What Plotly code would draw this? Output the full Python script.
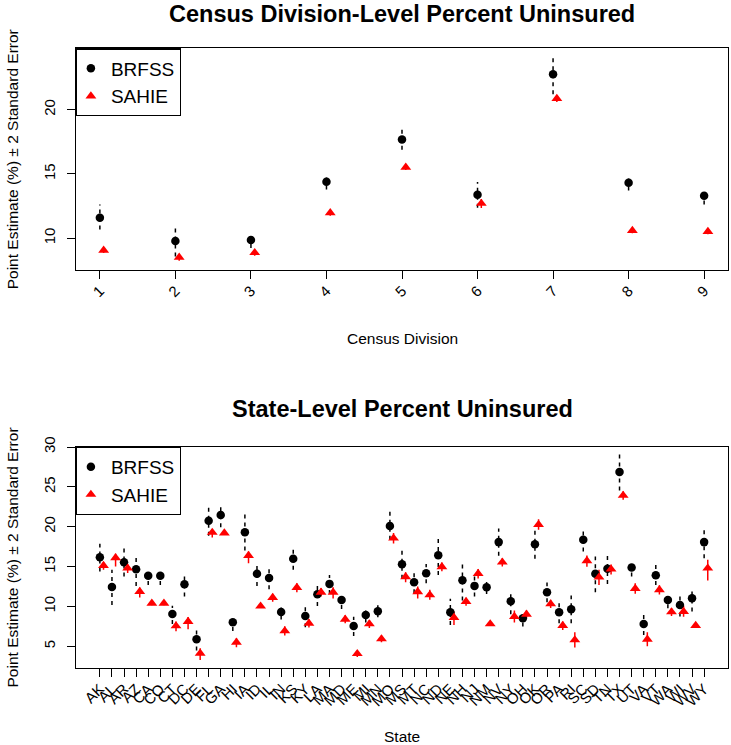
import plotly.graph_objects as go

# ---------------- Data: Census divisions ----------------
divisions = [1, 2, 3, 4, 5, 6, 7, 8, 9]
div_brfss = [11.59, 9.79, 9.87, 14.40, 17.68, 13.39, 22.76, 14.32, 13.31]
div_brfss_lo = [10.68, 8.59, 9.25, 13.80, 16.88, 12.37, 21.20, 13.72, 12.63]
div_brfss_hi = [12.63, 10.94, 10.30, 14.84, 18.54, 14.38, 24.11, 14.74, 13.67]
div_sahie = [9.06, 8.52, 8.88, 11.98, 15.52, 12.71, 20.86, 10.60, 10.52]
div_sahie_lo = [8.85, 8.25, 8.65, 11.75, 15.30, 12.35, 20.60, 10.40, 10.32]
div_sahie_hi = [9.25, 8.75, 9.10, 12.20, 15.75, 13.05, 21.10, 10.80, 10.72]

# ---------------- Data: States ----------------
states = ["AK", "AL", "AR", "AZ", "CA", "CO", "CT", "DC", "DE", "FL", "GA", "HI", "IA",
          "ID", "IL", "IN", "KS", "KY", "LA", "MA", "MD", "ME", "MI", "MN", "MO", "MS",
          "MT", "NC", "ND", "NE", "NH", "NJ", "NM", "NV", "NY", "OH", "OK", "OR", "PA",
          "RI", "SC", "SD", "TN", "TX", "UT", "VA", "VT", "WA", "WI", "WV", "WY"]
st_brfss = [16.18, 12.45, 15.55, 14.67, 13.84, 13.84, 9.06, 12.79, 5.88, 20.75, 21.46, 8.02, 19.32,
            14.09, 13.58, 9.30, 15.97, 8.81, 11.53, 12.83, 10.82, 7.55, 8.94, 9.40, 20.08, 15.30,
            13.04, 14.17, 16.43, 9.27, 13.29, 12.58, 12.41, 18.07, 10.65, 8.52, 17.81, 11.78, 9.27,
            9.65, 18.36, 14.09, 14.72, 26.86, 14.88, 7.81, 13.92, 10.82, 10.19, 11.03, 18.07]
st_brfss_lo = [14.38, 10.19, 13.75, 12.58, 12.70, 12.70, 7.80, 11.24, 4.46, 18.86, 19.95, 6.93, 17.02,
               12.58, 12.16, 8.35, 14.59, 7.39, 10.07, 11.57, 9.69, 6.30, 7.97, 8.64, 18.36, 13.46,
               11.66, 12.91, 13.96, 7.68, 10.74, 11.24, 11.57, 16.35, 9.02, 7.47, 15.97, 10.53, 7.89,
               7.89, 16.89, 11.78, 12.83, 24.56, 13.75, 6.42, 12.70, 9.77, 8.73, 9.36, 16.05]
st_brfss_hi = [17.86, 14.59, 17.40, 16.26, 14.60, 14.60, 10.10, 13.90, 7.18, 22.55, 22.76, 8.52, 21.62,
               15.22, 14.80, 9.98, 17.31, 9.98, 12.70, 13.96, 11.45, 8.72, 9.56, 10.19, 21.92, 17.10,
               14.67, 15.34, 18.65, 10.95, 15.51, 13.75, 13.25, 19.78, 11.66, 9.23, 19.61, 13.00, 10.49,
               11.37, 19.53, 16.26, 16.48, 29.25, 15.43, 8.94, 15.30, 11.49, 11.37, 12.08, 19.78]
st_sahie = [15.13, 16.10, 14.80, 11.87, 10.40, 10.40, 7.55, 8.10, 4.12, 19.28, 19.20, 5.50, 16.39,
            10.03, 11.11, 6.93, 12.37, 7.89, 11.78, 11.78, 8.39, 4.08, 7.81, 5.92, 18.57, 13.71,
            11.83, 11.45, 14.97, 8.60, 10.61, 14.13, 7.81, 15.55, 8.73, 9.02, 20.28, 10.32, 7.60,
            5.80, 15.72, 13.67, 14.68, 23.93, 12.24, 5.88, 12.08, 9.31, 9.35, 7.60, 14.80]
st_sahie_lo = [14.60, 15.00, 14.20, 11.11, 10.15, 10.15, 6.90, 7.14, 3.28, 18.65, 18.95, 4.87, 15.43,
               9.80, 10.60, 6.35, 11.78, 7.35, 11.25, 11.00, 7.90, 3.65, 7.30, 5.50, 17.90, 13.05,
               11.00, 10.85, 14.40, 7.68, 10.10, 13.50, 7.60, 15.00, 7.98, 8.52, 19.61, 9.80, 7.05,
               4.85, 14.97, 12.70, 14.00, 23.40, 11.60, 5.02, 11.50, 8.80, 8.70, 7.35, 13.25]
st_sahie_hi = [15.55, 16.60, 15.30, 12.37, 10.65, 10.65, 8.10, 8.69, 4.75, 19.60, 19.45, 6.00, 16.90,
               10.25, 11.60, 7.50, 12.90, 8.40, 12.30, 12.40, 8.90, 4.45, 8.30, 6.35, 19.20, 14.30,
               12.50, 12.10, 15.50, 9.40, 11.10, 14.70, 8.05, 16.05, 9.48, 9.48, 20.95, 10.85, 8.10,
               6.75, 16.40, 14.60, 15.25, 24.45, 12.90, 6.75, 12.65, 9.80, 10.10, 7.85, 15.85]

DIV_OFFSET = 0.05
ST_OFFSET = 0.3

FONT = "Liberation Sans, Arial, sans-serif"


def seg(xs, lo, hi, off=0.0):
    sx, sy = [], []
    for x, a, b in zip(xs, lo, hi):
        sx += [x + off, x + off, None]
        sy += [a, b, None]
    return sx, sy


fig = go.Figure()

# ---- top panel ----
sx, sy = seg(divisions, div_brfss_lo, div_brfss_hi)
fig.add_trace(go.Scatter(x=sx, y=sy, mode="lines", line=dict(color="black", width=1.5, dash="4px,4px"),
                         showlegend=False, hoverinfo="skip", xaxis="x", yaxis="y"))
sx, sy = seg(divisions, div_sahie_lo, div_sahie_hi, DIV_OFFSET)
fig.add_trace(go.Scatter(x=sx, y=sy, mode="lines", line=dict(color="red", width=1.5),
                         showlegend=False, hoverinfo="skip", xaxis="x", yaxis="y"))
fig.add_trace(go.Scatter(x=divisions, y=div_brfss, mode="markers", name="BRFSS",
                         marker=dict(symbol="circle", color="black", size=8.5),
                         xaxis="x", yaxis="y", legend="legend"))
fig.add_trace(go.Scatter(x=[d + DIV_OFFSET for d in divisions], y=div_sahie, mode="markers", name="SAHIE",
                         marker=dict(symbol="triangle-up", color="red", size=9.5),
                         xaxis="x", yaxis="y", legend="legend"))

# ---- bottom panel ----
idx = list(range(1, len(states) + 1))
sx, sy = seg(idx, st_brfss_lo, st_brfss_hi)
fig.add_trace(go.Scatter(x=sx, y=sy, mode="lines", line=dict(color="black", width=1.5, dash="4px,4px"),
                         showlegend=False, hoverinfo="skip", xaxis="x2", yaxis="y2"))
sx, sy = seg(idx, st_sahie_lo, st_sahie_hi, ST_OFFSET)
fig.add_trace(go.Scatter(x=sx, y=sy, mode="lines", line=dict(color="red", width=1.5),
                         showlegend=False, hoverinfo="skip", xaxis="x2", yaxis="y2"))
fig.add_trace(go.Scatter(x=idx, y=st_brfss, mode="markers", name="BRFSS",
                         marker=dict(symbol="circle", color="black", size=8.5),
                         xaxis="x2", yaxis="y2", legend="legend2"))
fig.add_trace(go.Scatter(x=[i + ST_OFFSET for i in idx], y=st_sahie, mode="markers", name="SAHIE",
                         marker=dict(symbol="triangle-up", color="red", size=9.5),
                         xaxis="x2", yaxis="y2", legend="legend2"))

W, H = 731, 745
xl, xr = 75.7 / W, 728.3 / W
top_t, top_b = 1 - 48.3 / H, 1 - 270.3 / H
bot_t, bot_b = 1 - 446.7 / H, 1 - 668.3 / H

axis_common = dict(showline=True, mirror=True, linecolor="black", linewidth=1.2,
                   ticks="outside", ticklen=8, tickwidth=1.2, tickcolor="black",
                   showgrid=False, zeroline=False, automargin=False,
                   tickfont=dict(family=FONT, size=15, color="black"))

legend_common = dict(xanchor="left", yanchor="top", bordercolor="black", borderwidth=1.2,
                     bgcolor="white", font=dict(family=FONT, size=19, color="black"),
                     tracegroupgap=0, itemwidth=30, indentation=-6)

fig.update_layout(
    width=W, height=H,
    margin=dict(l=0, r=0, t=0, b=0, autoexpand=False),
    paper_bgcolor="white", plot_bgcolor="white",
    font=dict(family=FONT, color="black"),
    xaxis=dict(domain=[xl, xr], range=[0.68, 9.32], tickmode="array", tickvals=divisions,
               ticktext=[str(d) for d in divisions], tickangle=-45, anchor="y",
               ticklabelstandoff=-3, **axis_common),
    yaxis=dict(domain=[top_b, top_t], range=[7.51, 24.77], tickmode="array", tickvals=[10, 15, 20],
               tickangle=-90, anchor="x", ticklabelstandoff=6, **axis_common),
    xaxis2=dict(domain=[xl, xr], range=[-1, 53], tickmode="array", tickvals=idx,
                ticktext=states, tickangle=-45, anchor="y2", ticklabelstandoff=-3, **axis_common),
    yaxis2=dict(domain=[bot_b, bot_t], range=[2.24, 30.04], tickmode="array",
                tickvals=[5, 10, 15, 20, 25, 30], tickangle=-90, anchor="x2", ticklabelstandoff=6,
                **axis_common),
    legend=dict(x=xl, y=top_t, **legend_common),
    legend2=dict(x=xl, y=bot_t, **legend_common),
    annotations=[
        dict(text="<b>Census Division-Level Percent Uninsured</b>", x=(xl + xr) / 2, y=1 - 14 / H,
             xref="paper", yref="paper", showarrow=False, font=dict(family=FONT, size=23.5),
             xanchor="center", yanchor="middle"),
        dict(text="<b>State-Level Percent Uninsured</b>", x=(xl + xr) / 2, y=1 - 409 / H,
             xref="paper", yref="paper", showarrow=False, font=dict(family=FONT, size=23.5),
             xanchor="center", yanchor="middle"),
        dict(text="Census Division", x=(xl + xr) / 2, y=1 - 338 / H, xref="paper", yref="paper",
             showarrow=False, font=dict(family=FONT, size=15.5), xanchor="center", yanchor="middle"),
        dict(text="State", x=(xl + xr) / 2, y=1 - 736 / H, xref="paper", yref="paper",
             showarrow=False, font=dict(family=FONT, size=15.5), xanchor="center", yanchor="middle"),
        dict(text="Point Estimate (%) ± 2 Standard Error", x=12 / W, y=(top_t + top_b) / 2,
             xref="paper", yref="paper", showarrow=False, textangle=-90,
             font=dict(family=FONT, size=15.5), xanchor="center", yanchor="middle"),
        dict(text="Point Estimate (%) ± 2 Standard Error", x=12 / W, y=(bot_t + bot_b) / 2,
             xref="paper", yref="paper", showarrow=False, textangle=-90,
             font=dict(family=FONT, size=15.5), xanchor="center", yanchor="middle"),
    ],
)

fig.write_html("out.html", config={"displayModeBar": False},
               post_script="document.body.style.margin='0';document.body.style.padding='0';"
                           "document.documentElement.style.overflow='hidden';")
